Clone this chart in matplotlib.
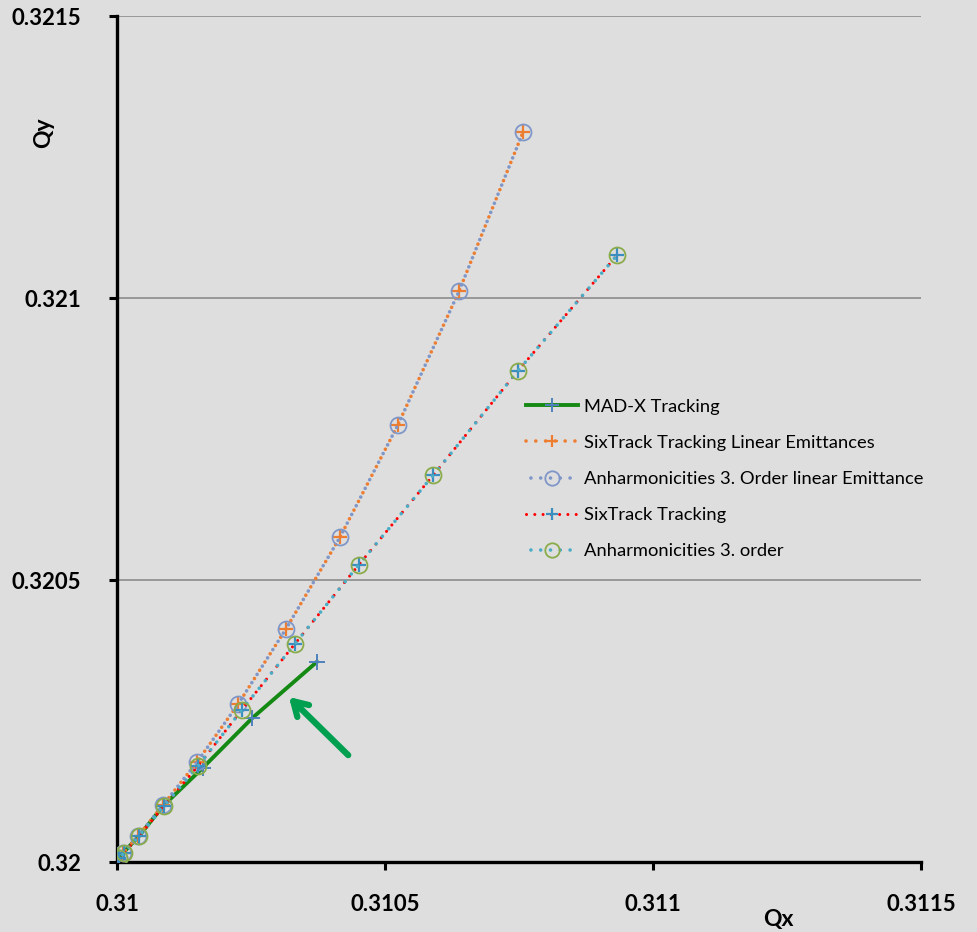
import matplotlib
matplotlib.use("Agg")
import matplotlib.pyplot as plt

plt.rcParams['font.family'] = ['Lato', 'DejaVu Sans']

# MAD-X tracking
madx_qx = [0.3100019, 0.310011, 0.310041, 0.3100858, 0.310160, 0.310252, 0.310373]
madx_qy = [0.3200053, 0.320016, 0.320046, 0.3200993, 0.320167, 0.320255, 0.320355]

# SixTrack linear emittances / anharmonicities 3. order linear emittance
lin_qx = [0.3100037, 0.3100112, 0.3100392, 0.3100858, 0.310149, 0.310226,
          0.310315, 0.310416, 0.310524, 0.310638, 0.3107575]
lin_qy = [0.320007, 0.320016, 0.3200461, 0.320101, 0.320177, 0.320280,
          0.320413, 0.320576, 0.320775, 0.321012, 0.3212943]

# SixTrack tracking / anharmonicities 3. order
six_qx = [0.3100037, 0.310013, 0.310041, 0.3100877, 0.310151, 0.310233,
          0.310332, 0.310451, 0.310590, 0.310748, 0.310933]
six_qy = [0.320007, 0.320016, 0.320046, 0.3200993, 0.320170, 0.320270,
          0.320387, 0.320527, 0.320686, 0.320871, 0.321076]

labels = ["MAD-X Tracking", "SixTrack Tracking Linear Emittances",
          "Anharmonicities 3. Order linear Emittance", "SixTrack Tracking",
          "Anharmonicities 3. order"]

bg = '#dedede'
fig = plt.figure(figsize=(9.77, 9.32), dpi=100, facecolor=bg)
ax = fig.add_axes([0.1198, 0.0751, 0.8229, 0.9077], facecolor=bg)

ax.plot(madx_qx, madx_qy, '-', color='#148a14', lw=2.8, marker='+', ms=11,
        mec='#4f81bd', mew=1.4, label=labels[0], zorder=3)
ax.plot(lin_qx, lin_qy, color='#ed7d31', lw=2.6, ls=(0, (0.01, 2.7)),
        dash_capstyle='round', marker='+', ms=10, mec='#ed7d31', mew=1.6,
        label=labels[1], zorder=4)
ax.plot(lin_qx, lin_qy, color='#7f96c8', lw=2.6, ls=(1.35, (0.01, 2.7)),
        dash_capstyle='round', marker='o', ms=11.5, mfc='none', mec='#7f96c8',
        mew=1.3, label=labels[2], zorder=5)
ax.plot(six_qx, six_qy, color='#ff0000', lw=2.2, ls=(0, (0.01, 2.7)),
        dash_capstyle='round', marker='+', ms=10, mec='#3a8fc0', mew=1.6,
        label=labels[3], zorder=6)
ax.plot(six_qx, six_qy, color='#4bacc6', lw=2.6, ls=(1.35, (0.01, 2.7)),
        dash_capstyle='round', marker='o', ms=11.5, mfc='none', mec='#8aab4a',
        mew=1.3, label=labels[4], zorder=7)

ax.annotate('', xy=(0.310317, 0.320296), xytext=(0.310435, 0.320186),
            arrowprops=dict(arrowstyle='->, head_length=1.0, head_width=0.6',
                            color='#00a050', lw=4.5))

ax.set_xlim(0.31, 0.3115)
ax.set_ylim(0.32, 0.3215)
ax.set_xticks([0.31, 0.3105, 0.311, 0.3115])
ax.set_xticklabels(['0.31', '0.3105', '0.311', '0.3115'])
ax.set_yticks([0.32, 0.3205, 0.321, 0.3215])
ax.set_yticklabels(['0.32', '0.3205', '0.321', '0.3215'])
ax.yaxis.grid(True, color='#8c8c8c', lw=1.2)
ax.set_axisbelow(True)

for s in ['top', 'right']:
    ax.spines[s].set_visible(False)
for s in ['left', 'bottom']:
    ax.spines[s].set_linewidth(2.4)
ax.tick_params(axis='both', direction='out', length=6, width=2.2,
               labelsize=16)
ax.tick_params(axis='y', pad=20)
ax.tick_params(axis='x', pad=17)
for t in ax.get_xticklabels() + ax.get_yticklabels():
    t.set_fontweight('bold')

ax.set_xlabel('Qx', fontsize=16.5, fontweight='bold')
ax.xaxis.set_label_coords(0.822, -0.055)
ax.set_ylabel('Qy', fontsize=16.5, fontweight='bold')
ax.yaxis.set_label_coords(-0.078, 0.862)

ax.legend(loc='upper left', bbox_to_anchor=(0.522, 0.59),
          bbox_transform=fig.transFigure, frameon=False, fontsize=13.2,
          handlelength=2.8, labelspacing=1.1, handletextpad=0.35,
          markerscale=0.9)

fig.savefig('out.png', dpi=100, facecolor=bg)
